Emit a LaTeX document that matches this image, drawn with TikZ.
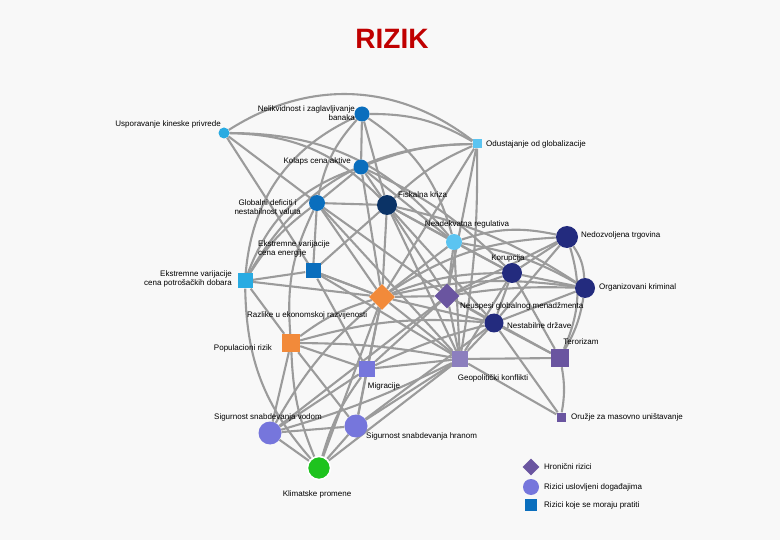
\documentclass[tikz,border=0pt]{standalone}
\usepackage{fontspec}
\setmainfont{Liberation Sans}
\usetikzlibrary{shapes.geometric, backgrounds}

\definecolor{bgcol}{RGB}{248,248,248}
\definecolor{edgecol}{RGB}{155,155,155}
\definecolor{midblue}{RGB}{10,110,189}
\definecolor{lightblue}{RGB}{41,171,226}
\definecolor{skyblue}{RGB}{91,196,241}
\definecolor{deepnavy}{RGB}{11,51,102}
\definecolor{indigo}{RGB}{35,43,126}
\definecolor{violet}{RGB}{106,85,160}
\definecolor{lavender}{RGB}{140,127,190}
\definecolor{slate}{RGB}{118,118,220}
\definecolor{rorange}{RGB}{242,138,58}
\definecolor{rgreen}{RGB}{30,195,30}
\definecolor{titlered}{RGB}{192,0,0}

\begin{document}
\begin{tikzpicture}[x=1pt, y=-1pt,
            rcirc/.style={circle, inner sep=0pt, minimum size=#1},
            rsq/.style={rectangle, inner sep=0pt, minimum size=#1},
            rdia/.style={diamond, inner sep=0pt, minimum size=#1},
            lbl/.style={font=\fontsize{8}{9.5}\selectfont, inner sep=1pt},
            link/.style={draw=edgecol, line width=2.1pt}]

        \useasboundingbox (0,0) rectangle (780,540);

        % --- Title ---
        \node[font=\fontsize{28}{30}\selectfont\bfseries, text=titlered] (title) at (392,39) {RIZIK};

        % --- Risk nodes ---
        \node[rcirc=15, fill=midblue]   (nelikv)  at (362,114) {};
        \node[rcirc=11, fill=lightblue] (kina)    at (224,133) {};
        \node[rsq=9,   fill=skyblue]    (odust)   at (477,144) {};
        \node[rcirc=15, fill=midblue]   (kolaps)  at (361,167) {};
        \node[rcirc=20, fill=deepnavy]  (fiskal)  at (387,205) {};
        \node[rcirc=16, fill=midblue]   (globdef) at (317,203) {};
        \node[rcirc=16, fill=skyblue]   (neadekv) at (454,242) {};
        \node[rcirc=22, fill=indigo]    (nedozv)  at (567,237) {};
        \node[rsq=15,  fill=midblue]    (energ)   at (313,271) {};
        \node[rsq=15,  fill=lightblue]  (potros)  at (245,281) {};
        \node[rcirc=20, fill=indigo]    (korup)   at (512,273) {};
        \node[rcirc=20, fill=indigo]    (orgkrim) at (585,288) {};
        \node[rdia=25, fill=violet]     (menadz)  at (447,296) {};
        \node[rdia=26, fill=rorange]    (razlike) at (382,297) {};
        \node[rcirc=19, fill=indigo]    (nestab)  at (494,323) {};
        \node[rsq=18,  fill=violet]     (teror)   at (560,358) {};
        \node[rsq=18,  fill=rorange]    (popul)   at (291,343) {};
        \node[rsq=16,  fill=lavender]   (geopol)  at (460,359) {};
        \node[rsq=16,  fill=slate]      (migr)    at (367,369) {};
        \node[rsq=9,   fill=violet]     (oruzje)  at (561,417) {};
        \node[rcirc=23, fill=slate]     (vodom)   at (270,433) {};
        \node[rcirc=23, fill=slate]     (hranom)  at (356,426) {};
        \node[rcirc=23, fill=rgreen, draw=white, line width=1.5pt] (klim) at (319,468) {};

        % --- Labels ---
        \node[lbl, anchor=east, align=right] (nelikv-l) at (356,113) {Nelikvidnost i zaglavljivanje\\banaka};
        \node[lbl, anchor=east]  (kina-l)    at (222,124) {Usporavanje kineske privrede};
        \node[lbl, anchor=west]  (odust-l)   at (485,144) {Odustajanje od globalizacije};
        \node[lbl, anchor=east]  (kolaps-l)  at (352,161) {Kolaps cena aktive};
        \node[lbl, anchor=west]  (fiskal-l)  at (397,195) {Fiskalna kriza};
        \node[lbl, anchor=east, align=center] (globdef-l) at (302,207) {Globalni deficiti i\\nestabilnost valuta};
        \node[lbl]               (neadekv-l) at (467,224) {Neadekvatna regulativa};
        \node[lbl, anchor=west]  (nedozv-l)  at (580,235) {Nedozvoljena trgovina};
        \node[lbl, anchor=west, align=left]  (energ-l)  at (257,249) {Ekstremne varijacije\\cena energije};
        \node[lbl, anchor=east, align=right] (potros-l) at (233,279) {Ekstremne varijacije\\cena potrošačkih dobara};
        \node[lbl]               (korup-l)   at (508,258) {Korupcija};
        \node[lbl, anchor=west]  (orgkrim-l) at (598,287) {Organizovani kriminal};
        \node[lbl, anchor=west]  (menadz-l)  at (459,306) {Neuspesi globalnog menadžmenta};
        \node[lbl, anchor=west]  (razlike-l) at (246,315) {Razlike u ekonomskoj razvijenosti};
        \node[lbl, anchor=west]  (nestab-l)  at (506,326) {Nestabilne države};
        \node[lbl]               (teror-l)   at (581,342) {Terorizam};
        \node[lbl, anchor=east]  (popul-l)   at (273,348) {Populacioni rizik};
        \node[lbl]               (geopol-l)  at (493,378) {Geopolitički konflikti};
        \node[lbl]               (migr-l)    at (384,386) {Migracije};
        \node[lbl, anchor=west]  (oruzje-l)  at (570,417) {Oružje za masovno uništavanje};
        \node[lbl]               (vodom-l)   at (268,417) {Sigurnost snabdevanja vodom};
        \node[lbl, anchor=west]  (hranom-l)  at (365,436) {Sigurnost snabdevanja hranom};
        \node[lbl]               (klim-l)    at (317,494) {Klimatske promene};

        % --- Legend ---
        \node[rdia=17, fill=violet]  (leg1) at (531,467) {};
        \node[rcirc=16, fill=slate]  (leg2) at (531,487) {};
        \node[rsq=12, fill=midblue]  (leg3) at (531,505) {};
        \node[lbl, anchor=west] (leg1-l) at (543,467) {Hronični rizici};
        \node[lbl, anchor=west] (leg2-l) at (543,487) {Rizici uslovljeni događajima};
        \node[lbl, anchor=west] (leg3-l) at (543,505) {Rizici koje se moraju pratiti};

        % --- Links ---
        \begin{scope}[on background layer]
        \fill[bgcol] (0,0) rectangle (780,540);
        \path[link] (kina) edge[bend left=35] (odust)
        (kina) edge[bend left=22] (fiskal)
        (kina) edge (globdef)
        (kina) edge (energ)
        (kina) edge[bend left=25] (neadekv)
        (nelikv) edge (kolaps)
        (nelikv) edge (fiskal)
        (nelikv) edge[bend right=15] (globdef)
        (nelikv) edge[bend left=15] (odust)
        (nelikv) edge[bend left=20] (neadekv)
        (nelikv) edge[bend right=30] (potros)
        (kolaps) edge (fiskal)
        (kolaps) edge (globdef)
        (kolaps) edge[bend left=10] (odust)
        (kolaps) edge (razlike)
        (kolaps) edge (neadekv)
        (kolaps) edge[bend right=25] (potros)
        (kolaps) edge[bend left=10] (korup)
        (fiskal) edge (globdef)
        (fiskal) edge (razlike)
        (fiskal) edge (neadekv)
        (fiskal) edge (korup)
        (fiskal) edge (menadz)
        (fiskal) edge (geopol)
        (fiskal) edge (nestab)
        (fiskal) edge (energ)
        (fiskal) edge[bend left=10] (orgkrim)
        (fiskal) edge[bend left=10] (odust);
        \path[link] (globdef) edge (razlike)
        (globdef) edge (energ)
        (globdef) edge[bend right=10] (potros)
        (globdef) edge (geopol)
        (globdef) edge (menadz)
        (globdef) edge[bend right=15] (popul)
        (odust) edge (menadz)
        (odust) edge[bend left=5] (geopol)
        (odust) edge[bend right=30] (potros)
        (odust) edge (razlike)
        (neadekv) edge (korup)
        (neadekv) edge[bend left=10] (orgkrim)
        (neadekv) edge[bend left=15] (nedozv)
        (neadekv) edge (menadz)
        (neadekv) edge (razlike)
        (neadekv) edge (geopol)
        (nedozv) edge (korup)
        (nedozv) edge[bend left=15] (orgkrim)
        (nedozv) edge (nestab)
        (nedozv) edge[bend right=15] (razlike)
        (nedozv) edge (menadz)
        (nedozv) edge[bend left=20] (teror)
        (korup) edge (nestab)
        (korup) edge (orgkrim)
        (korup) edge (menadz)
        (korup) edge[bend right=10] (razlike)
        (korup) edge (geopol)
        (korup) edge (teror)
        (orgkrim) edge (nestab)
        (orgkrim) edge[bend left=10] (teror)
        (orgkrim) edge[bend right=5] (menadz)
        (orgkrim) edge[bend right=10] (razlike);
        \path[link] (menadz) edge (razlike)
        (menadz) edge (nestab)
        (menadz) edge (geopol)
        (menadz) edge (migr)
        (menadz) edge (vodom)
        (menadz) edge (teror)
        (razlike) edge[bend right=10] (popul)
        (razlike) edge (geopol)
        (razlike) edge (migr)
        (razlike) edge (nestab)
        (razlike) edge (energ)
        (razlike) edge (potros)
        (razlike) edge (hranom)
        (razlike) edge[bend right=10] (vodom)
        (razlike) edge (klim)
        (nestab) edge (geopol)
        (nestab) edge (teror)
        (nestab) edge (oruzje)
        (nestab) edge (hranom)
        (nestab) edge[bend right=5] (migr)
        (nestab) edge[bend right=10] (popul)
        (popul) edge (migr)
        (popul) edge[bend left=5] (geopol)
        (popul) edge (vodom)
        (popul) edge[bend right=10] (klim)
        (popul) edge (hranom)
        (popul) edge (potros)
        (geopol) edge (teror)
        (geopol) edge (oruzje)
        (geopol) edge (migr)
        (geopol) edge (hranom)
        (geopol) edge[bend left=5] (vodom)
        (geopol) edge (klim)
        (migr) edge (hranom)
        (migr) edge[bend right=10] (klim)
        (migr) edge (vodom)
        (vodom) edge (hranom)
        (vodom) edge (klim)
        (hranom) edge (klim)
        (teror) edge[bend left=10] (oruzje)
        (energ) edge (potros)
        (energ) edge (razlike)
        (energ) edge (migr)
        (energ) edge (geopol)
        (potros) edge[bend right=20] (klim);
        \end{scope}

    \end{tikzpicture}
\end{document}
